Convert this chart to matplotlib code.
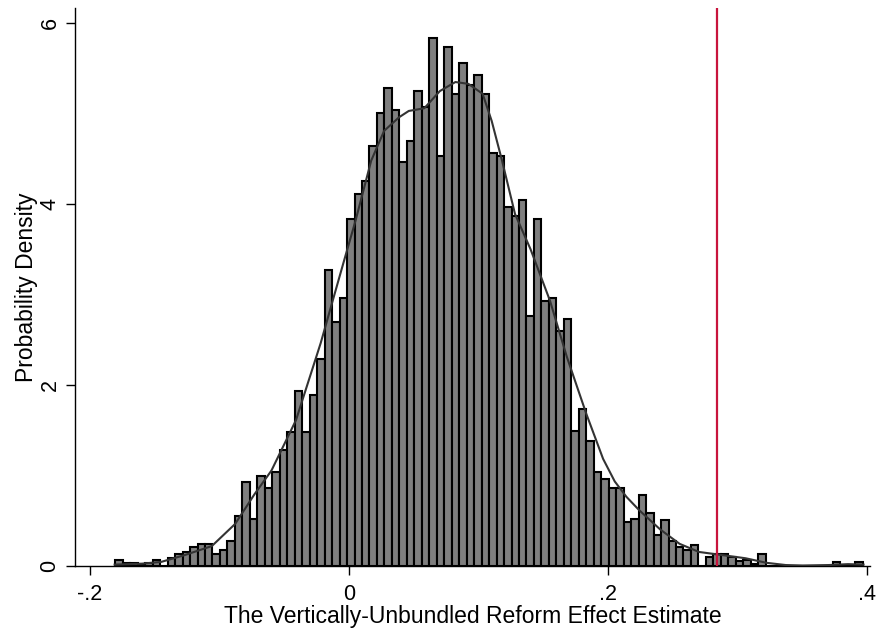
import matplotlib
matplotlib.use("Agg")
import matplotlib.pyplot as plt
import numpy as np

plt.rcParams['font.family'] = ['Liberation Sans', 'DejaVu Sans']

# Histogram: 100 bins starting at bin_start with width bin_width
bin_start = -0.1805
bin_width = 0.00577
density = [
    0.063, 0.03, 0.03, 0.015, 0.03, 0.06, 0.0, 0.085, 0.125, 0.15,
    0.20, 0.235, 0.235, 0.125, 0.17, 0.27, 0.545, 0.925, 0.51, 0.995,
    0.86, 1.035, 1.275, 1.48, 1.93, 1.48, 1.89, 2.28, 3.27, 2.69,
    2.96, 3.83, 4.11, 4.25, 4.64, 5.01, 5.28, 5.04, 4.46, 4.70,
    5.25, 5.07, 5.84, 4.53, 5.74, 5.22, 5.56, 5.32, 5.43, 5.22,
    4.56, 4.53, 3.97, 3.87, 4.04, 2.76, 3.83, 2.93, 2.96, 2.59,
    2.73, 1.49, 1.73, 1.38, 1.03, 0.96, 0.86, 0.86, 0.48, 0.51,
    0.78, 0.58, 0.34, 0.50, 0.27, 0.20, 0.17, 0.23, 0.0, 0.09,
    0.13, 0.13, 0.09, 0.045, 0.06, 0.02, 0.13, 0.0, 0.0, 0.0,
    0.0, 0.0, 0.0, 0.0, 0.0, 0.0, 0.035, 0.0, 0.0, 0.035,
]

# Kernel density curve
kde_x = [-0.181, -0.16, -0.145, -0.127, -0.106, -0.088, -0.073, -0.060,
         -0.041, -0.022, -0.004, 0.005, 0.017, 0.027, 0.0385, 0.046,
         0.058, 0.070, 0.082, 0.092, 0.103, 0.110, 0.118, 0.128, 0.140,
         0.155, 0.168, 0.183, 0.196, 0.205, 0.214, 0.224, 0.240, 0.255,
         0.270, 0.288, 0.306, 0.322, 0.337, 0.35, 0.37, 0.385, 0.397]
kde_y = [0.01, 0.02, 0.04, 0.115, 0.215, 0.46, 0.79, 1.05,
         1.61, 2.46, 3.37, 3.82, 4.48, 4.81, 4.96, 5.03,
         5.06, 5.25, 5.35, 5.33, 5.22, 4.92, 4.48, 3.89, 3.50,
         2.93, 2.31, 1.68, 1.18, 0.93, 0.76, 0.61, 0.40, 0.24,
         0.15, 0.115, 0.08, 0.03, 0.005, 0.0, 0.005, 0.015, 0.01]

observed_estimate = 0.2836

x_ticks = [-0.2, 0.0, 0.2, 0.4]
x_tick_labels = ["-.2", "0", ".2", ".4"]
y_ticks = [0, 2, 4, 6]
y_tick_labels = ["0", "2", "4", "6"]

fig = plt.figure(figsize=(8.78, 6.32), dpi=100)
ax = fig.add_axes([75/878, 1 - 565.5/632, (870 - 75)/878, (565.5 - 8.3)/632])

lefts = bin_start + bin_width * np.arange(len(density))
ax.bar(lefts, density, width=bin_width, align='edge', color='#7f7f7f',
       edgecolor='black', linewidth=1.5, zorder=2)
ax.plot(kde_x, kde_y, color='#333333', linewidth=1.5, zorder=3)
ax.axvline(observed_estimate, color='#c8143c', linewidth=1.6, zorder=4)

ax.set_xlim(-0.2116, 0.402)
ax.set_ylim(0, 6.166)
ax.set_xticks(x_ticks)
ax.set_xticklabels(x_tick_labels)
ax.set_yticks(y_ticks)
ax.set_yticklabels(y_tick_labels, rotation=90, va='center')
ax.tick_params(axis='both', direction='out', length=6.5, width=1.0,
               labelsize=15.5, colors='black', pad=4)
ax.tick_params(axis='x', pad=7)

for s in ['top', 'right']:
    ax.spines[s].set_visible(False)
for s in ['left', 'bottom']:
    ax.spines[s].set_linewidth(1.0)

ax.set_xlabel("The Vertically-Unbundled Reform Effect Estimate", fontsize=16.5, labelpad=0)
ax.set_ylabel("Probability Density", fontsize=16.5, labelpad=1)

fig.savefig("out.png", dpi=100, facecolor='white')
